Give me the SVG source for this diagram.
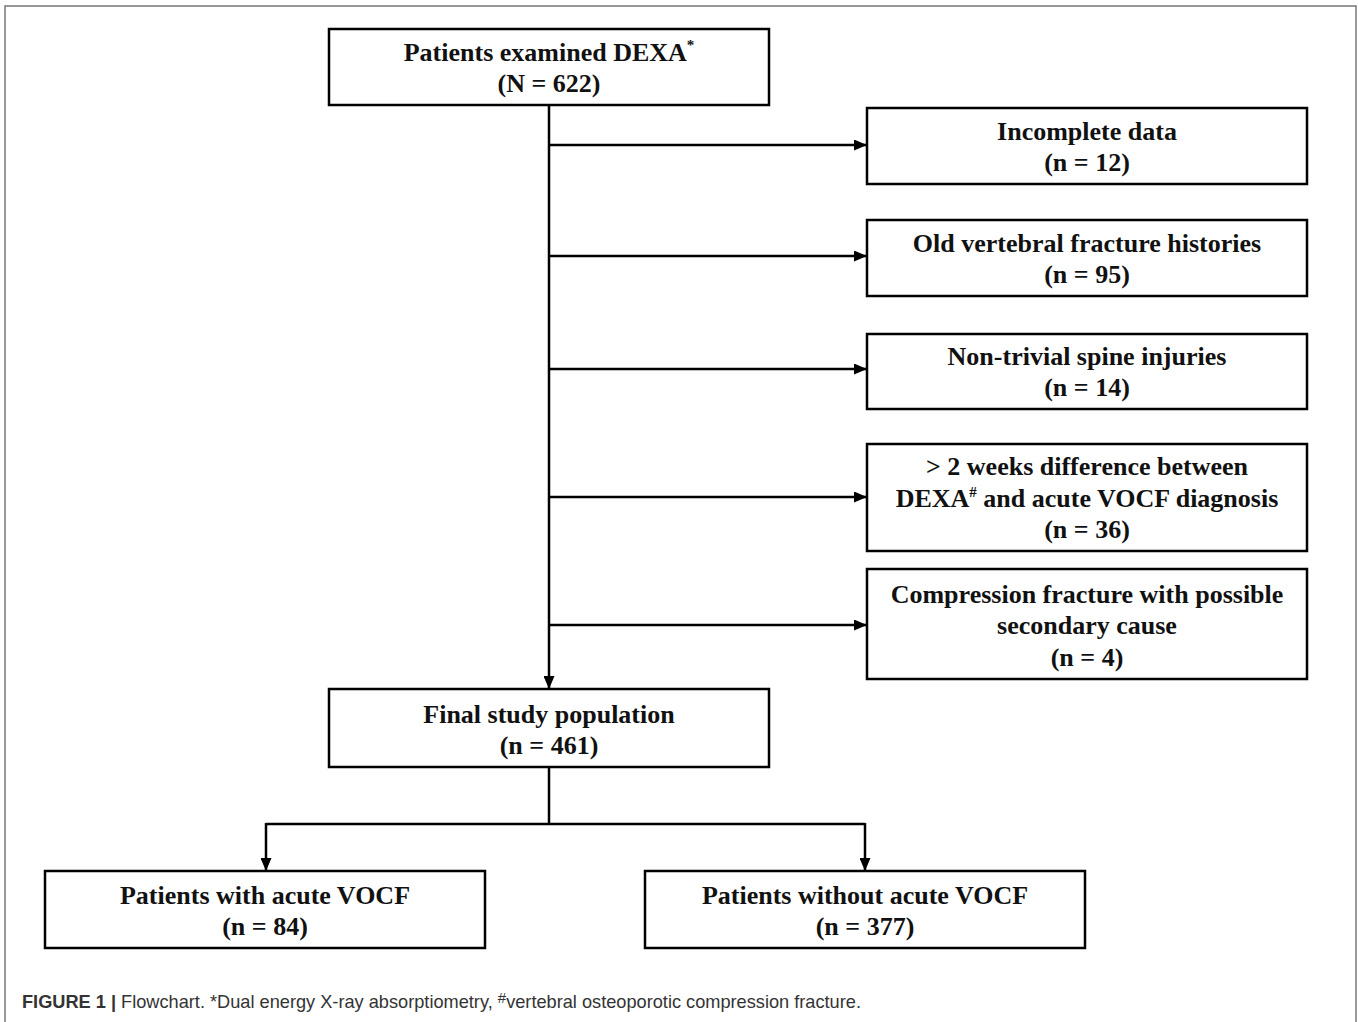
<svg xmlns="http://www.w3.org/2000/svg" width="1358" height="1022" viewBox="0 0 1358 1022">
<style>
.box{fill:#fff;stroke:#000;stroke-width:2.5}
.t{font-family:"Liberation Serif","Times New Roman",serif;font-weight:bold;font-size:26px;fill:#111;text-anchor:middle}
.ln{fill:none;stroke:#000;stroke-width:2.5}
.cap{font-family:"Liberation Sans",Arial,sans-serif;font-size:18.2px;fill:#333}
</style>
<defs>
<marker id="ah" markerWidth="13" markerHeight="11" refX="12" refY="5.5" orient="auto" markerUnits="userSpaceOnUse">
<path d="M0,0 L13,5.5 L0,11 Z" fill="#000"/>
</marker>
</defs>
<rect x="0" y="0" width="1358" height="1022" fill="#fff"/>
<rect x="5" y="6" width="1351" height="1030" fill="none" stroke="#777" stroke-width="1.5"/>
<g id="connectors">
<path class="ln" d="M549,105 V688" marker-end="url(#ah)"/>
<path class="ln" d="M549,145 H866" marker-end="url(#ah)"/>
<path class="ln" d="M549,256 H866" marker-end="url(#ah)"/>
<path class="ln" d="M549,369 H866" marker-end="url(#ah)"/>
<path class="ln" d="M549,497 H866" marker-end="url(#ah)"/>
<path class="ln" d="M549,625 H866" marker-end="url(#ah)"/>
<path class="ln" d="M549,767 V824"/>
<path class="ln" d="M266,824 H865"/>
<path class="ln" d="M266,823 V870" marker-end="url(#ah)"/>
<path class="ln" d="M865,823 V870" marker-end="url(#ah)"/>
</g>
<g id="n-start">
<rect class="box" x="329" y="29" width="440" height="76"/>
<text class="t" x="549" y="61">Patients examined DEXA<tspan font-size="15" dy="-11">*</tspan></text>
<text class="t" x="549" y="92">(N = 622)</text>
</g>
<g id="n-incomplete">
<rect class="box" x="867" y="108" width="440" height="76"/>
<text class="t" x="1087" y="140">Incomplete data</text>
<text class="t" x="1087" y="171">(n = 12)</text>
</g>
<g id="n-old">
<rect class="box" x="867" y="220" width="440" height="76"/>
<text class="t" x="1087" y="252">Old vertebral fracture histories</text>
<text class="t" x="1087" y="283">(n = 95)</text>
</g>
<g id="n-nontrivial">
<rect class="box" x="867" y="334" width="440" height="75"/>
<text class="t" x="1087" y="365">Non-trivial spine injuries</text>
<text class="t" x="1087" y="396">(n = 14)</text>
</g>
<g id="n-weeks">
<rect class="box" x="867" y="444" width="440" height="107"/>
<text class="t" x="1087" y="475">&gt; 2 weeks difference between</text>
<text class="t" x="1087" y="507">DEXA<tspan font-size="15" dy="-10">#</tspan><tspan dy="10"> and acute VOCF diagnosis</tspan></text>
<text class="t" x="1087" y="538">(n = 36)</text>
</g>
<g id="n-compression">
<rect class="box" x="867" y="569" width="440" height="110"/>
<text class="t" x="1087" y="603">Compression fracture with possible</text>
<text class="t" x="1087" y="634">secondary cause</text>
<text class="t" x="1087" y="666">(n = 4)</text>
</g>
<g id="n-final">
<rect class="box" x="329" y="689" width="440" height="78"/>
<text class="t" x="549" y="723">Final study population</text>
<text class="t" x="549" y="754">(n = 461)</text>
</g>
<g id="n-with">
<rect class="box" x="45" y="871" width="440" height="77"/>
<text class="t" x="265" y="904">Patients with acute VOCF</text>
<text class="t" x="265" y="935">(n = 84)</text>
</g>
<g id="n-without">
<rect class="box" x="645" y="871" width="440" height="77"/>
<text class="t" x="865" y="904">Patients without acute VOCF</text>
<text class="t" x="865" y="935">(n = 377)</text>
</g>
<text class="cap" x="22" y="1008"><tspan font-weight="bold">FIGURE 1 |</tspan> Flowchart. *Dual energy X-ray absorptiometry, <tspan font-size="15" dy="-5">#</tspan><tspan dy="5">vertebral osteoporotic compression fracture.</tspan></text>
</svg>
